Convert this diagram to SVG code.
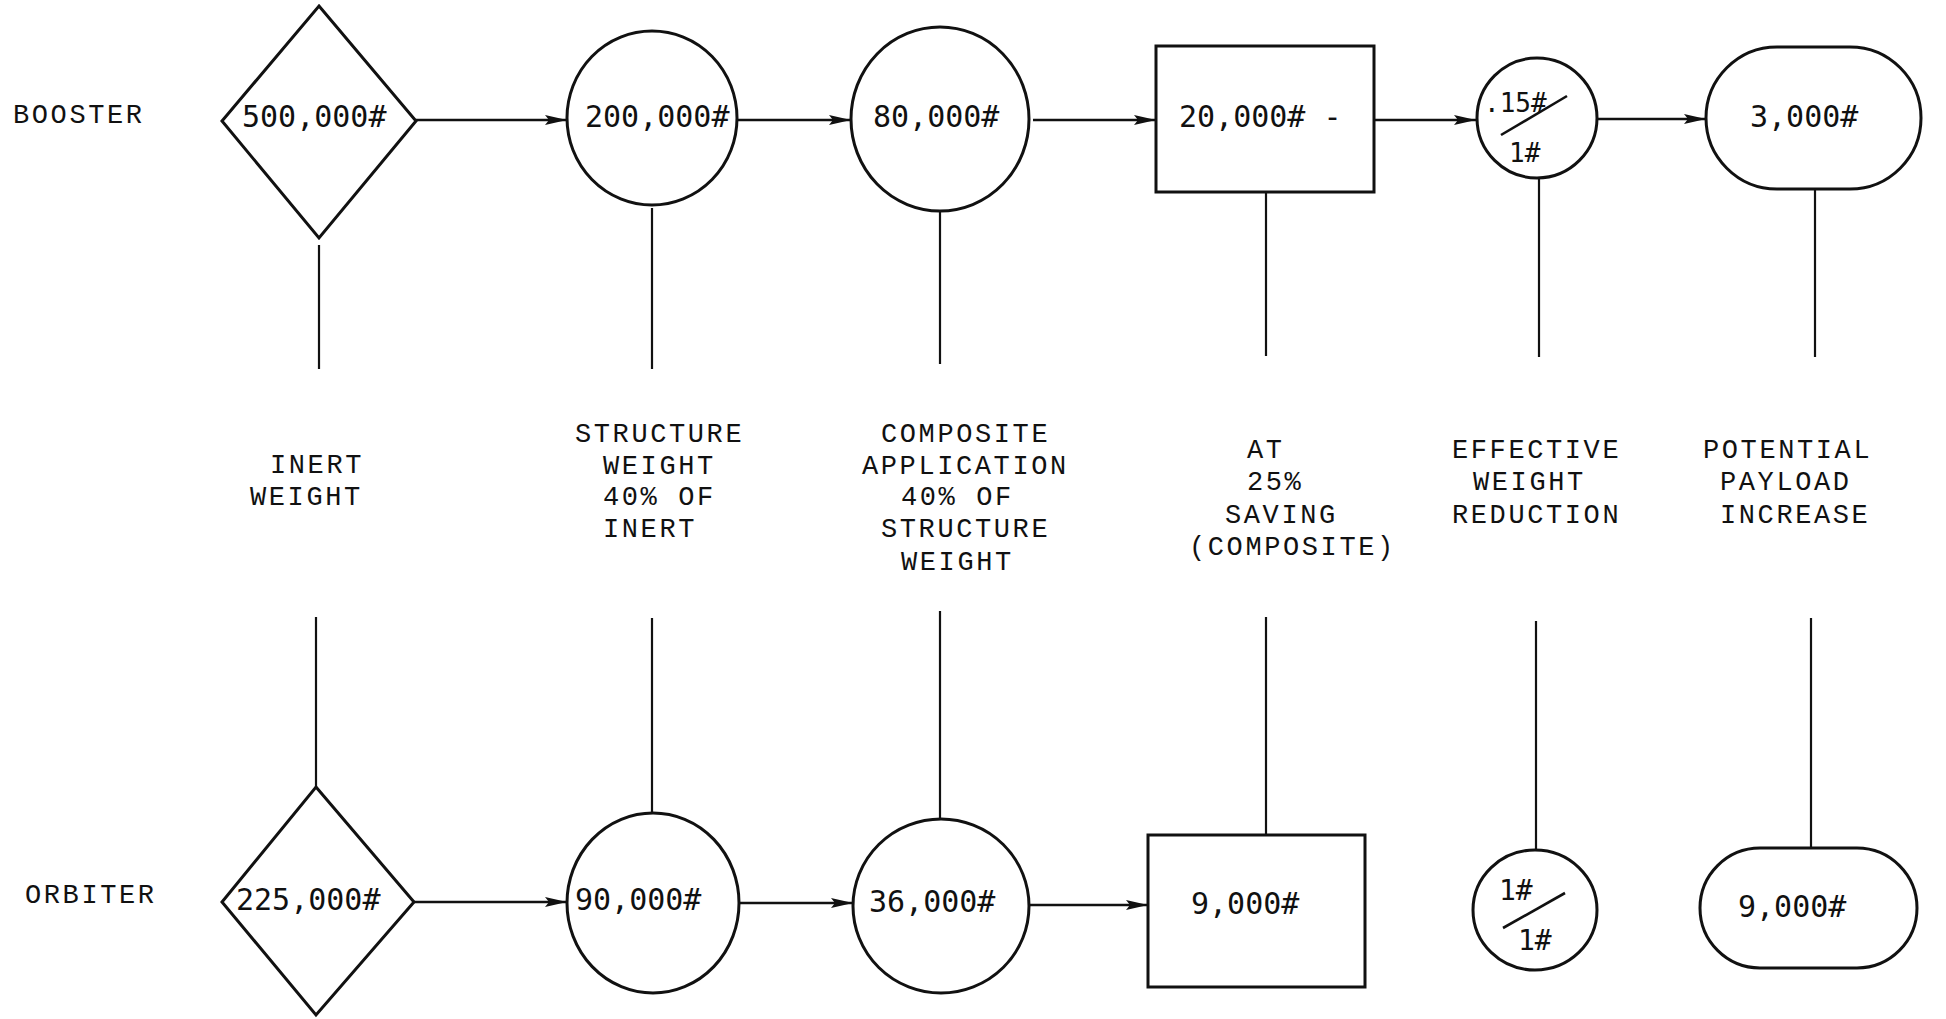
<svg xmlns="http://www.w3.org/2000/svg" width="1946" height="1019" viewBox="0 0 1946 1019">
<style>
.shape{fill:none;stroke:#111;stroke-width:3}
.conn{fill:none;stroke:#111;stroke-width:2.6}
.vline{fill:none;stroke:#111;stroke-width:2.2}
.num{font-family:"DejaVu Sans Mono","Liberation Mono",monospace;font-size:30px;fill:#111}
.frac{font-family:"DejaVu Sans Mono","Liberation Mono",monospace;font-size:26px;fill:#111}
.lbl{font-family:"Liberation Mono","DejaVu Sans Mono",monospace;font-size:27px;letter-spacing:2.6px;fill:#111}
</style>
<defs>
<marker id="ah" viewBox="0 0 22 12" refX="22" refY="6" markerWidth="22" markerHeight="12" markerUnits="userSpaceOnUse" orient="auto">
<path d="M0,1 L22,6 L0,11 L4,6 z" fill="#111"/>
</marker>
</defs>
<rect width="1946" height="1019" fill="#fff"/>

<g id="row-labels">
<text class="lbl" x="13" y="123">BOOSTER</text>
<text class="lbl" x="25" y="903">ORBITER</text>
</g>

<g id="connectors">
<line class="conn" x1="416" y1="120" x2="567" y2="120" marker-end="url(#ah)"/>
<line class="conn" x1="738" y1="120" x2="851" y2="120" marker-end="url(#ah)"/>
<line class="conn" x1="1033" y1="120" x2="1156" y2="120" marker-end="url(#ah)"/>
<line class="conn" x1="1374" y1="120" x2="1476" y2="120" marker-end="url(#ah)"/>
<line class="conn" x1="1598" y1="119" x2="1706" y2="119" marker-end="url(#ah)"/>
<line class="conn" x1="414" y1="902" x2="567" y2="902" marker-end="url(#ah)"/>
<line class="conn" x1="740" y1="903" x2="853" y2="903" marker-end="url(#ah)"/>
<line class="conn" x1="1029" y1="905" x2="1148" y2="905" marker-end="url(#ah)"/>
<line class="vline" x1="319" y1="245" x2="319" y2="369"/>
<line class="vline" x1="652" y1="208" x2="652" y2="369"/>
<line class="vline" x1="940" y1="211" x2="940" y2="364"/>
<line class="vline" x1="1266" y1="192" x2="1266" y2="356"/>
<line class="vline" x1="1539" y1="178" x2="1539" y2="357"/>
<line class="vline" x1="1815" y1="189" x2="1815" y2="357"/>
<line class="vline" x1="316" y1="617" x2="316" y2="787"/>
<line class="vline" x1="652" y1="618" x2="652" y2="813"/>
<line class="vline" x1="940" y1="611" x2="940" y2="819"/>
<line class="vline" x1="1266" y1="617" x2="1266" y2="835"/>
<line class="vline" x1="1536" y1="621" x2="1536" y2="849"/>
<line class="vline" x1="1811" y1="618" x2="1811" y2="848"/>
</g>

<g id="booster-inert">
<polygon class="shape" points="319,6 416,121 319,238 222,121"/>
<text class="num" x="242" y="127">500,000#</text>
</g>
<g id="booster-structure">
<ellipse class="shape" cx="652" cy="118" rx="85" ry="87"/>
<text class="num" x="585" y="127">200,000#</text>
</g>
<g id="booster-composite">
<ellipse class="shape" cx="940" cy="119" rx="89" ry="92"/>
<text class="num" x="873" y="127">80,000#</text>
</g>
<g id="booster-saving">
<rect class="shape" x="1156" y="46" width="218" height="146"/>
<text class="num" x="1179" y="127">20,000# -</text>
</g>
<g id="booster-effective">
<circle class="shape" cx="1537" cy="118" r="60"/>
<text class="frac" x="1484" y="112">.15#</text>
<text class="frac" x="1509" y="162">1#</text>
<line class="conn" x1="1501" y1="135" x2="1567" y2="96"/>
</g>
<g id="booster-payload">
<rect class="shape" x="1706" y="47" width="215" height="142" rx="71" ry="71"/>
<text class="num" x="1750" y="127">3,000#</text>
</g>

<g id="label-inert">
<text class="lbl" x="270" y="473">INERT</text>
<text class="lbl" x="250" y="505">WEIGHT</text>
</g>
<g id="label-structure">
<text class="lbl" x="575" y="442">STRUCTURE</text>
<text class="lbl" x="603" y="474">WEIGHT</text>
<text class="lbl" x="603" y="505">40% OF</text>
<text class="lbl" x="603" y="537">INERT</text>
</g>
<g id="label-composite">
<text class="lbl" x="881" y="442">COMPOSITE</text>
<text class="lbl" x="862" y="474">APPLICATION</text>
<text class="lbl" x="901" y="505">40% OF</text>
<text class="lbl" x="881" y="537">STRUCTURE</text>
<text class="lbl" x="901" y="570">WEIGHT</text>
</g>
<g id="label-saving">
<text class="lbl" x="1247" y="458">AT</text>
<text class="lbl" x="1247" y="490">25%</text>
<text class="lbl" x="1225" y="523">SAVING</text>
<text class="lbl" x="1189" y="555">(COMPOSITE)</text>
</g>
<g id="label-effective">
<text class="lbl" x="1452" y="458">EFFECTIVE</text>
<text class="lbl" x="1473" y="490">WEIGHT</text>
<text class="lbl" x="1452" y="523">REDUCTION</text>
</g>
<g id="label-payload">
<text class="lbl" x="1703" y="458">POTENTIAL</text>
<text class="lbl" x="1720" y="490">PAYLOAD</text>
<text class="lbl" x="1720" y="523">INCREASE</text>
</g>

<g id="orbiter-inert">
<polygon class="shape" points="316,787 414,902 316,1015 222,902"/>
<text class="num" x="236" y="910">225,000#</text>
</g>
<g id="orbiter-structure">
<ellipse class="shape" cx="653" cy="903" rx="86" ry="90"/>
<text class="num" x="575" y="910">90,000#</text>
</g>
<g id="orbiter-composite">
<ellipse class="shape" cx="941" cy="906" rx="88" ry="87"/>
<text class="num" x="869" y="912">36,000#</text>
</g>
<g id="orbiter-saving">
<rect class="shape" x="1148" y="835" width="217" height="152"/>
<text class="num" x="1191" y="914">9,000#</text>
</g>
<g id="orbiter-effective">
<ellipse class="shape" cx="1535" cy="910" rx="62" ry="60"/>
<text class="frac" x="1499" y="900" style="font-size:28px">1#</text>
<text class="frac" x="1518" y="950" style="font-size:28px">1#</text>
<line class="conn" x1="1503" y1="928" x2="1565" y2="893"/>
</g>
<g id="orbiter-payload">
<rect class="shape" x="1700" y="848" width="217" height="120" rx="60" ry="60"/>
<text class="num" x="1738" y="917">9,000#</text>
</g>
</svg>
